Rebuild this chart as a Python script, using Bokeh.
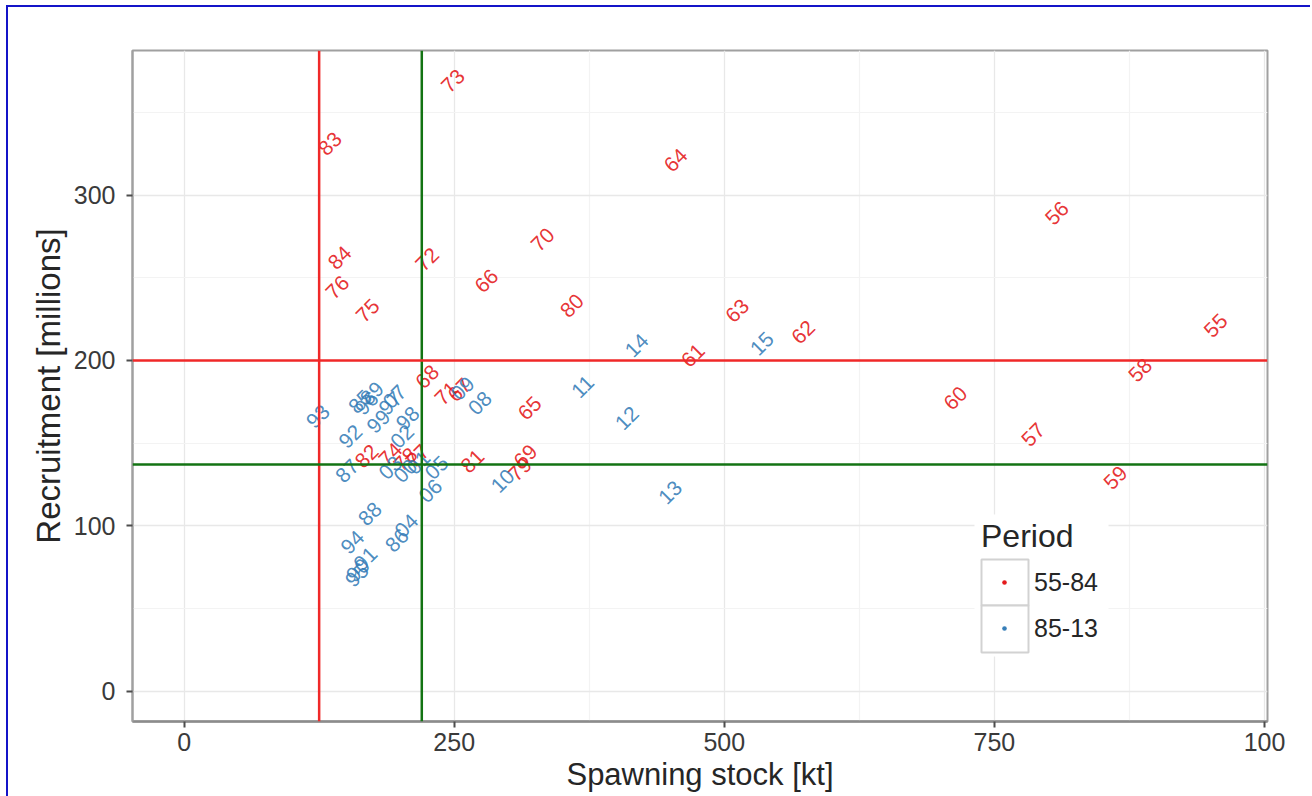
import math
from bokeh.plotting import figure
from bokeh.models import (ColumnDataSource, Span, FixedTicker, Legend, LegendItem,
                          Range1d, BoxAnnotation)
from bokeh.core.properties import value
from bokeh.embed import file_html
from bokeh.resources import INLINE

# ---------------- data ----------------
years_a = ["55", "56", "57", "58", "59", "60", "61", "62", "63", "64",
           "65", "66", "67", "68", "69", "70", "71", "72", "73", "74",
           "75", "76", "77", "78", "79", "80", "81", "82", "83", "84"]
ssb_a = [955, 808, 786, 885, 862, 714, 471, 573, 512, 455,
         320, 280, 255, 225, 316, 332, 243, 225, 249, 191,
         170, 142, 216, 205, 311, 359, 267, 169, 135, 144]
rec_a = [221, 289, 155, 194, 129, 177, 203, 217, 230, 321,
         171, 248, 182, 190, 142, 273, 180, 261, 369, 143,
         230, 244, 142, 140, 134, 233, 139, 142, 331, 262]

years_b = ["85", "86", "87", "88", "89", "90", "91", "92", "93", "94",
           "95", "96", "97", "98", "99", "00", "01", "02", "03", "04",
           "05", "06", "07", "08", "09", "10", "11", "12", "13", "14", "15"]
ssb_b = [163, 197, 151, 172, 174, 161, 168, 154, 124, 156,
         160, 169, 191, 207, 180, 205, 217, 202, 191, 206,
         234, 228, 195, 274, 258, 295, 369, 410, 450, 419, 535]
rec_b = [175, 91, 133, 107, 180, 73, 80, 154, 166, 90,
         70, 174, 174, 165, 163, 133, 138, 154, 135, 100,
         135, 121, 178, 174, 183, 127, 184, 165, 120, 209, 210]

period_labels = ["55-84", "85-13"]
period_colors = ["#E41A1C", "#377EB8"]

ref_x_red, ref_x_green = 125, 220      # vertical reference lines (kt)
ref_y_red, ref_y_green = 200, 137      # horizontal reference lines (millions)

x_ticks = [0, 250, 500, 750, 1000]
x_tick_labels = ["0", "250", "500", "750", "100"]
x_minor = [125, 375, 625, 875]
y_ticks = [0, 100, 200, 300]
y_minor = [50, 150, 250, 350]

# ---------------- ranges (ggplot-like 5% expansion, including 0) ----------------
all_x = ssb_a + ssb_b
all_y = rec_a + rec_b
x_lo, x_hi = min(0, min(all_x)), max(all_x)
y_lo, y_hi = min(0, min(all_y)), max(all_y)
dx, dy = 0.05 * (x_hi - x_lo), 0.05 * (y_hi - y_lo)

FONT = "Liberation Sans"
BLUE_EDGE = "#1414c8"

p = figure(width=1312, height=796, output_backend="svg", toolbar_location=None,
           x_range=Range1d(x_lo - dx, x_hi + dx), y_range=Range1d(y_lo - dy, y_hi + dy),
           min_border_left=132, min_border_right=45, min_border_top=50, min_border_bottom=75,
           background_fill_color="white", border_fill_color="white", border_fill_alpha=0)
# thin blue frame of the original picture (top and left edges only), painted behind the canvas
p.styles = {
    "background-color": "white",
    "background-image": f"linear-gradient({BLUE_EDGE},{BLUE_EDGE}), linear-gradient({BLUE_EDGE},{BLUE_EDGE})",
    "background-position": "6px 5px, 6px 5px",
    "background-size": "2px 791px, 1304px 2px",
    "background-repeat": "no-repeat, no-repeat",
}

p.outline_line_color = "#a0a0a0"
p.outline_line_width = 2

# axes
p.xaxis.ticker = FixedTicker(ticks=x_ticks, minor_ticks=x_minor)
p.yaxis.ticker = FixedTicker(ticks=y_ticks, minor_ticks=y_minor)
p.xaxis.major_label_overrides = {t: l for t, l in zip(x_ticks, x_tick_labels)}
for ax in (p.xaxis, p.yaxis):
    ax.major_label_text_font = FONT
    ax.major_label_text_font_size = "25px"
    ax.major_label_text_color = "#3a3a3a"
    ax.major_tick_line_color = "#4d4d4d"
    ax.major_tick_line_width = 2
    ax.major_tick_out = 6
    ax.major_tick_in = 0
    ax.minor_tick_line_color = None
    ax.axis_label_text_font = FONT
    ax.axis_label_text_font_style = "normal"
    ax.axis_label_text_color = "#262626"
p.xaxis.axis_line_color = "#8c8c8c"
p.xaxis.axis_line_width = 2.5
p.yaxis.axis_line_color = "#a0a0a0"
p.yaxis.axis_line_width = 2
p.xaxis.major_label_standoff = 5
p.yaxis.major_label_standoff = 11

p.xaxis.axis_label = "Spawning stock [kt]"
p.xaxis.axis_label_text_font_size = "31px"
p.xaxis.axis_label_standoff = 3
p.yaxis.axis_label = "Recruitment [millions]"
p.yaxis.axis_label_text_font_size = "33px"
p.yaxis.axis_label_standoff = 4

# grid
for g in (p.xgrid, p.ygrid):
    g.grid_line_color = "#e8e8e8"
    g.grid_line_width = 1.3
    g.minor_grid_line_color = "#f3f3f3"
    g.minor_grid_line_width = 1.2

# labels (years) as rotated text
src_a = ColumnDataSource(dict(x=ssb_a, y=rec_a, t=years_a))
src_b = ColumnDataSource(dict(x=ssb_b, y=rec_b, t=years_b))
for src, col in ((src_a, period_colors[0]), (src_b, period_colors[1])):
    p.text(x="x", y="y", text="t", source=src, angle=math.pi / 4,
           text_align="center", text_baseline="middle",
           text_font=value(FONT), text_font_size="21px", text_color=col, text_alpha=0.9)

# reference lines
p.add_layout(Span(location=ref_x_red, dimension="height", line_color="#f02828", line_width=2.5))
p.add_layout(Span(location=ref_x_green, dimension="height", line_color="#137313", line_width=2.5))
p.add_layout(Span(location=ref_y_red, dimension="width", line_color="#f02828", line_width=2.5))
p.add_layout(Span(location=ref_y_green, dimension="width", line_color="#137313", line_width=2.5))

# legend background and ggplot-style key boxes (drawn before the legend)
p.add_layout(BoxAnnotation(left=974, right=1108, top=514, bottom=656,
                           left_units="canvas", right_units="canvas",
                           top_units="canvas", bottom_units="canvas",
                           fill_color="white", fill_alpha=1, line_alpha=0))
for top, bottom in ((559, 605), (605, 652)):
    p.add_layout(BoxAnnotation(left=981, right=1028, top=top, bottom=bottom,
                               left_units="canvas", right_units="canvas",
                               top_units="canvas", bottom_units="canvas",
                               fill_color="white", fill_alpha=1,
                               line_color="#d2d2d2", line_width=2, line_alpha=1))

# legend
nan = float("nan")
items = []
for lab, col in zip(period_labels, period_colors):
    dot = p.scatter(x=[nan], y=[nan], marker="dot", size=10, line_color=col, fill_color=col)
    items.append(LegendItem(label=lab, renderers=[dot]))

legend = Legend(items=items, location=(849, 70), title="Period",
                title_text_font=FONT, title_text_font_size="32px",
                title_text_font_style="normal", title_text_color="#262626",
                title_standoff=4,
                label_text_font=FONT, label_text_font_size="25px", label_text_color="#262626",
                label_standoff=7, label_height=46,
                glyph_width=46, glyph_height=46, spacing=0, padding=0, margin=0,
                border_line_color=None, background_fill_alpha=0)
p.add_layout(legend)

open("out.html", "w").write(file_html(p, INLINE))
